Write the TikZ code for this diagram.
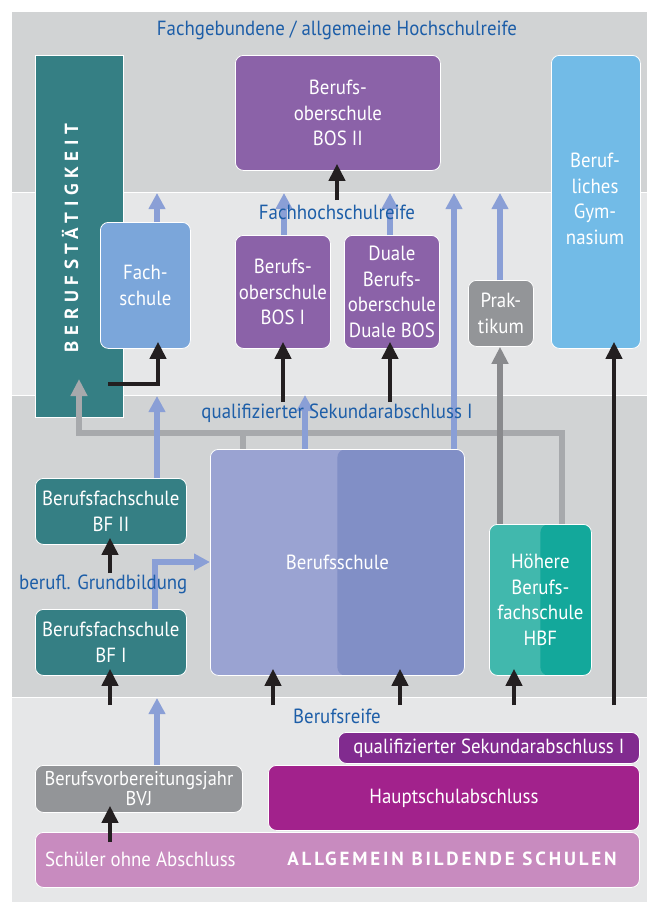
\documentclass[tikz,border=0pt]{standalone}
\usepackage{fontspec}
\setmainfont{PT Sans}[FakeStretch=0.92]
\newfontfamily\spacedfont{PT Sans}[LetterSpace=15]
\newfontfamily\widespacedfont{PT Sans}[LetterSpace=30]
\usetikzlibrary{arrows.meta,calc}
\definecolor{bandD}{HTML}{D1D3D4}
\definecolor{bandL}{HTML}{E6E7E8}
\definecolor{tealc}{HTML}{357F84}
\definecolor{bosc}{HTML}{8B62A8}
\definecolor{gymc}{HTML}{72BBE7}
\definecolor{fachc}{HTML}{7BA6DA}
\definecolor{prakc}{HTML}{939598}
\definecolor{bsL}{HTML}{9AA3D2}
\definecolor{bsR}{HTML}{818FC6}
\definecolor{hbfL}{HTML}{41B8AD}
\definecolor{hbfR}{HTML}{13A89B}
\definecolor{qsac}{HTML}{812B8F}
\definecolor{hsac}{HTML}{A2228C}
\definecolor{absc}{HTML}{C88BBF}
\definecolor{lblue}{HTML}{1D5EA8}
\definecolor{arrblue}{HTML}{8A9FD6}
\definecolor{grayL}{HTML}{A7A9AC}
\definecolor{grayD}{HTML}{898A8D}
\definecolor{blackc}{HTML}{231F20}
\newcommand\boxfont{\fontsize{20.5}{25.5}\selectfont}
\newcommand\lblfont{\fontsize{20.5}{23}\selectfont}
\begin{document}
\begin{tikzpicture}[x=1pt,y=-1pt,
  box/.style={draw=white, line width=0.8pt, rounded corners=8pt, inner sep=0pt,
    anchor=north west, text=white, align=center, font=\boxfont},
  lbl/.style={text=lblue, font=\lblfont, inner sep=0pt},
  blk/.style={draw=blackc, line width=4pt, -{Triangle[width=16pt,length=17pt]}, shorten >=-7pt},
  blu/.style={draw=arrblue, line width=6.5pt, -{Triangle[width=16pt,length=16pt]}},
  gryL/.style={draw=grayL, line width=6.5pt},
  gryD/.style={draw=grayD, line width=6pt, -{Triangle[width=16pt,length=17pt]}},
]
\useasboundingbox (0,0) rectangle (648,902);
\fill[white] (0,0) rectangle (648,902);
% bands
\fill[bandD] (12,12) rectangle (647,192);
\fill[bandL] (12,192) rectangle (647,395);
\fill[bandD] (12,395) rectangle (647,697);
\fill[bandL] (12,697) rectangle (647,902);
\draw[white, line width=1pt] (12,192) -- (647,192) (12,395) -- (647,395) (12,697) -- (647,697);

% boxes
\node[box, fill=tealc, rounded corners=0pt, minimum width=88pt, minimum height=362pt] (beruf) at (35,55) {};
\node[box, fill=bosc, minimum width=205pt, minimum height=115pt] (bos2) at (235,55) {Berufs-\\oberschule\\BOS II};
\node[box, fill=gymc, minimum width=89pt, minimum height=293pt] (gym) at (551,55) {};
\node[box, fill=fachc, minimum width=90pt, minimum height=126pt] (fach) at (100,222) {Fach-\\schule};
\node[box, fill=bosc, minimum width=95pt, minimum height=113pt] (bos1) at (235,235) {Berufs-\\oberschule\\BOS I};
\node[box, fill=bosc, minimum width=95pt, minimum height=113pt] (dbos) at (344,235) {Duale\\Berufs-\\oberschule\\Duale BOS};
\node[box, fill=prakc, minimum width=65pt, minimum height=66pt] (prak) at (468,280) {Prak-\\tikum};
\node[box, fill=bsL, minimum width=254pt, minimum height=226pt,
  path picture={\fill[bsR] (path picture bounding box.north) rectangle (path picture bounding box.south east);}] (bs) at (210,449) {Berufsschule};
\node[box, fill=hbfL, minimum width=102pt, minimum height=151pt,
  path picture={\fill[hbfR] (path picture bounding box.north) rectangle (path picture bounding box.south east);}] (hbf) at (489,524) {Höhere\\Berufs-\\fachschule\\HBF};
\node[box, fill=tealc, minimum width=151pt, minimum height=66pt] (bf2) at (35,478) {Berufsfachschule\\BF II};
\node[box, fill=tealc, minimum width=151pt, minimum height=66pt] (bf1) at (35,609) {Berufsfachschule\\BF I};
\node[box, fill=prakc, minimum width=207pt, minimum height=47pt, font=\fontsize{20}{20}\selectfont] (bvj) at (35,765) {Berufsvorbereitungsjahr\\BVJ};
\node[box, fill=qsac, minimum width=301pt, minimum height=31pt] (qsa) at (338,732) {qualifizierter Sekundarabschluss I};
\node[box, fill=hsac, minimum width=371pt, minimum height=65pt] (hsa) at (268,765) {Hauptschulabschluss};
\node[box, fill=absc, minimum width=604pt, minimum height=55pt] (abs) at (35,832) {};

% texts without own box
\node[text=white, font=\fontsize{19}{19}\bfseries\widespacedfont, rotate=90, inner sep=0pt] (bt) at (70,238) {BERUFSTÄTIGKEIT};
\node[text=white, font=\boxfont, align=center, inner sep=0pt] (gymt) at (595,199) {Beruf-\\liches\\Gym-\\nasium};
\node[text=white, font=\boxfont, inner sep=0pt, anchor=west] (ohne) at (45,859) {Schüler ohne Abschluss};
\node[text=white, font=\fontsize{19}{19}\bfseries\spacedfont, inner sep=0pt] (allg) at (452,859) {ALLGEMEIN BILDENDE SCHULEN};

% gray connectors
\coordinate (g1) at (562,433);
\coordinate (g2) at (79,433);
\coordinate (g3) at (79,379);
\draw[gryL, -{Triangle[width=16pt,length=17pt]}] (g1 |- hbf.north) -- (g1) -- (g2) -- (g3);
\coordinate (g4) at (243,433);
\draw[gryL] (g4) -- (g4 |- bs.north);
\coordinate (pk) at (500,524);
\draw[gryD] (pk |- hbf.north) -- (pk |- prak.south);

% blue arrows
\coordinate (tBVJ) at (157,698);
\draw[blu] (tBVJ |- bvj.north) -- (tBVJ);
\coordinate (bl1) at (155,562);
\draw[blu] (bl1 |- bf1.north) -- (bl1) -- (bl1 -| bs.west);
\coordinate (tBF2) at (157,396);
\draw[blu] (tBF2 |- bf2.north) -- (tBF2);
\coordinate (tFach) at (157,193);
\draw[blu] (tFach |- fach.north) -- (tFach);
\coordinate (tBS) at (305,395);
\draw[blu] (tBS |- bs.north) -- (tBS);
\coordinate (tBOS1) at (284,193);
\draw[blu] (tBOS1 |- bos1.north) -- (tBOS1);
\coordinate (tDBOS) at (390,193);
\draw[blu] (tDBOS |- dbos.north) -- (tDBOS);
\coordinate (tLong) at (454,193);
\draw[blu] (tLong |- bs.north) -- (tLong);
\coordinate (tPrak) at (500,193);
\draw[blu] (tPrak |- prak.north) -- (tPrak);

% black arrows
\coordinate (sBOS2) at (337,200);
\draw[blk] (sBOS2) -- (sBOS2 |- bos2.south);
\coordinate (sFach) at (108,384);
\coordinate (sFach2) at (158,384);
\draw[blk] (sFach) -- (sFach2) -- (sFach2 |- fach.south);
\coordinate (sBOS1) at (283,402);
\draw[blk] (sBOS1) -- (sBOS1 |- bos1.south);
\coordinate (sDBOS) at (390,402);
\draw[blk] (sDBOS) -- (sDBOS |- dbos.south);
\coordinate (sGym) at (614,705);
\draw[blk] (sGym) -- (sGym |- gym.south);
\coordinate (sBS1) at (273,705);
\draw[blk] (sBS1) -- (sBS1 |- bs.south);
\coordinate (sBS2) at (400,705);
\draw[blk] (sBS2) -- (sBS2 |- bs.south);
\coordinate (sHBF) at (514,705);
\draw[blk] (sHBF) -- (sHBF |- hbf.south);
\coordinate (sBF1) at (110,705);
\draw[blk] (sBF1) -- (sBF1 |- bf1.south);
\coordinate (sBF2) at (110,573);
\draw[blk] (sBF2) -- (sBF2 |- bf2.south);
\coordinate (sBVJ) at (110,842);
\draw[blk] (sBVJ) -- (sBVJ |- bvj.south);

% blue labels
\node[lbl] (l1) at (337,30) {Fachgebundene / allgemeine Hochschulreife};
\node[lbl] (l2) at (337,212) {Fachhochschulreife};
\node[lbl] (l3) at (337,413) {qualifizierter Sekundarabschluss I};
\node[lbl, anchor=west] (l4) at (19,584) {berufl. Grundbildung};
\node[lbl] (l5) at (337,716) {Berufsreife};
\end{tikzpicture}
\end{document}
